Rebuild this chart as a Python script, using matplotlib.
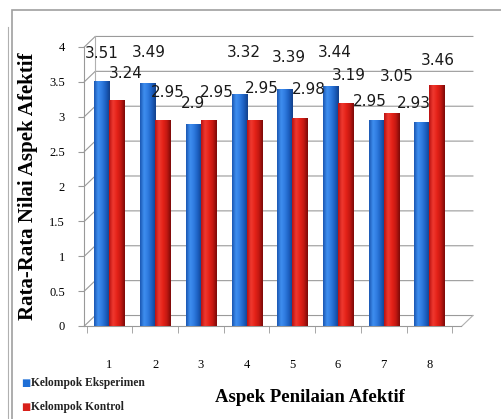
import numpy as np
import matplotlib
matplotlib.use("Agg")
import matplotlib.pyplot as plt
from matplotlib.patches import Rectangle
from matplotlib.colors import LinearSegmentedColormap

aspek = ["1", "2", "3", "4", "5", "6", "7", "8"]
eksperimen = [3.51, 3.49, 2.9, 3.32, 3.39, 3.44, 2.95, 2.93]
kontrol = [3.24, 2.95, 2.95, 2.95, 2.98, 3.19, 3.05, 3.46]
y_ticks = [0, 0.5, 1, 1.5, 2, 2.5, 3, 3.5, 4]
y_tick_labels = ["0", "0.5", "1", "1.5", "2", "2.5", "3", "3.5", "4"]
series_names = ["Kelompok Eksperimen", "Kelompok Kontrol"]

# label nudges (pixels: sideways, upward) so neighbouring value labels stay apart
lift_eks = [(0, 28), (1, 30), (0, 20), (5, 42), (4, 32), (4, 33), (-6, 19), (-8, 18)]
lift_kon = [(9, 26), (5, 28), (8, 28), (8, 32), (9, 29), (3, 28), (5, 37), (1, 24)]

serif = ["Liberation Serif", "DejaVu Serif"]
sans = ["DejaVu Sans"]

fig = plt.figure(figsize=(5.02, 4.19), dpi=100)
fig.patch.set_facecolor("white")

# outer chart frame (runs off the right and bottom edges)
frame = Rectangle((0.024, -0.2), 1.2, 1.176, transform=fig.transFigure,
                  fill=False, edgecolor="#a0a0a0", linewidth=1.2)
fig.add_artist(frame)
fig.add_artist(plt.Line2D([0.016, 0.016], [0.0, 0.935], transform=fig.transFigure,
                          color="#b0b0b0", linewidth=0.8))

ax = fig.add_axes([0.168, 0.222, 0.774, 0.666])
x = np.arange(1, len(aspek) + 1)
w = 0.33

blue_cmap = LinearSegmentedColormap.from_list(
    "b", ["#1a55b0", "#3f8ff0", "#2f7be0", "#1c5fc0", "#123f8a"])
red_cmap = LinearSegmentedColormap.from_list(
    "r", ["#b81010", "#f03a30", "#e52218", "#c41812", "#7a0a08"])
grad = np.linspace(0, 1, 64).reshape(1, -1)

def shaded_bars(xs, vals, cmap):
    for xi, v in zip(xs, vals):
        rect = Rectangle((xi - w / 2, 0), w, v, facecolor="none", edgecolor="none")
        ax.add_patch(rect)
        im = ax.imshow(grad, extent=(xi - w / 2, xi + w / 2, 0, v), cmap=cmap,
                       aspect="auto", zorder=3, interpolation="bicubic")
        im.set_clip_path(rect)

shaded_bars(x - w / 2, eksperimen, blue_cmap)
shaded_bars(x + w / 2, kontrol, red_cmap)

px = 72.0 / fig.dpi
for xi, v, (ox, oy) in zip(x - w / 2, eksperimen, lift_eks):
    ax.annotate(f"{v:g}", (xi, v), xytext=(ox * px, oy * px), textcoords="offset points",
                ha="center", va="center", fontsize=11, fontfamily=sans,
                color="#1a1a1a", zorder=5)
for xi, v, (ox, oy) in zip(x + w / 2, kontrol, lift_kon):
    ax.annotate(f"{v:g}", (xi, v), xytext=(ox * px, oy * px), textcoords="offset points",
                ha="center", va="center", fontsize=11, fontfamily=sans,
                color="#1a1a1a", zorder=5)

ax.set_xlim(0.45, 8.95)
ax.set_ylim(0, 4)

# back wall gridlines, drawn with a small perspective shift
dx, dy = 0.028, 0.15
ytr = ax.get_yaxis_transform()
for t in y_ticks:
    ax.plot([0, dx, 1.0], [t, t + dy, t + dy], transform=ytr, color="#9a9a9a",
            linewidth=0.8, zorder=0, clip_on=False)
ax.plot([dx, dx], [dy, 4 + dy], transform=ytr, color="#b0b0b0", linewidth=0.8,
        zorder=0, clip_on=False)
ax.plot([0.972, 1.0], [0, dy], transform=ytr, color="#b0b0b0", linewidth=0.8,
        zorder=0, clip_on=False)

ax.set_yticks(y_ticks)
ax.set_yticklabels(y_tick_labels, fontfamily=serif, fontsize=9)
ax.set_xticks(x)
ax.set_xticklabels(aspek, fontfamily=serif, fontsize=9)
ax.set_xticks(np.arange(0.5, len(aspek) + 1, 1), minor=True)
ax.tick_params(axis="x", which="major", length=0, pad=24)
ax.tick_params(axis="x", which="minor", length=5, color="#999999")
ax.tick_params(axis="y", length=4, color="#999999", pad=10)

for s in ["top", "right"]:
    ax.spines[s].set_visible(False)
ax.spines["bottom"].set_bounds(0.45, 8.7)
for s in ["left", "bottom"]:
    ax.spines[s].set_color("#999999")

ax.set_ylabel("Rata-Rata Nilai Aspek Afektif", fontfamily=serif, fontweight="bold",
              fontsize=15, labelpad=8)
fig.text(0.617, 0.052, "Aspek Penilaian Afektif", fontfamily=serif, fontweight="bold",
         fontsize=13.5, ha="center", va="center")

# legend
for yy, col, name in zip([0.086, 0.029], ["#1f6fd6", "#d8201a"], series_names):
    fig.text(0.042, yy, "\u25a0", color=col, fontsize=7, ha="left", va="center")
    fig.text(0.062, yy, name, fontfamily=serif, fontweight="bold", fontsize=8.3,
             ha="left", va="center", color="#222222")

fig.savefig("out.png", dpi=100)
